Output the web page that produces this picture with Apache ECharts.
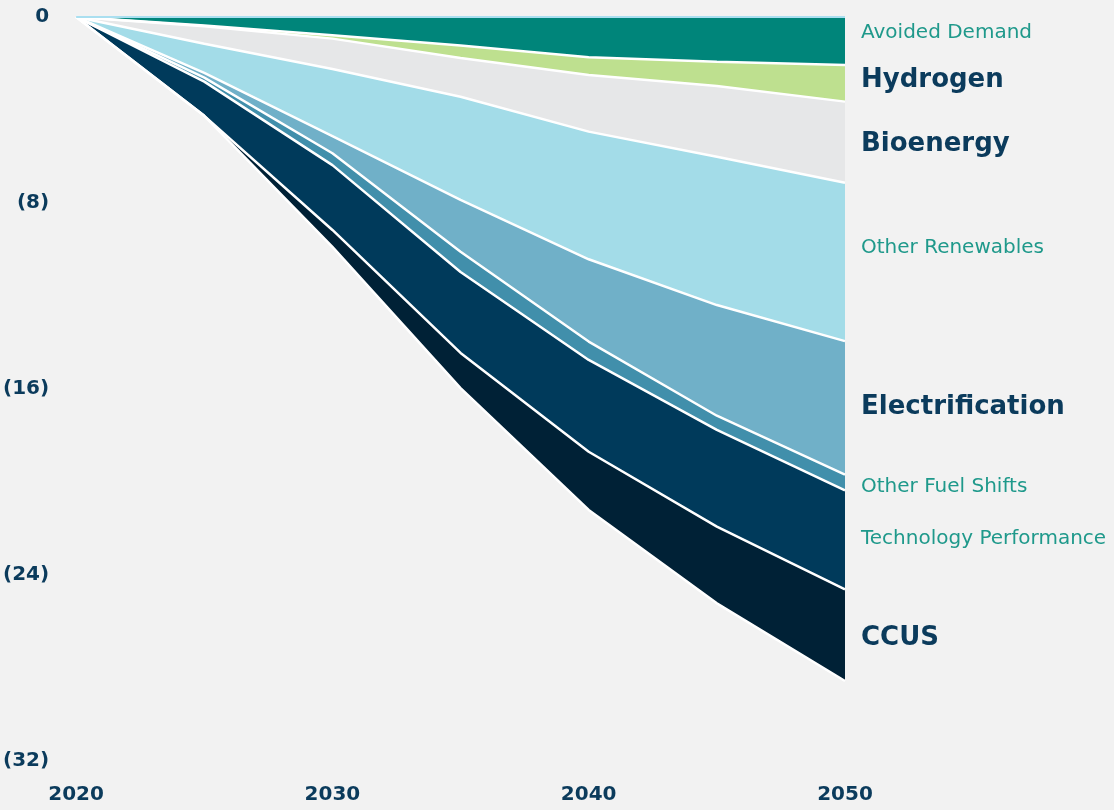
<!DOCTYPE html>
<html>
<head>
<meta charset="utf-8">
<style>
  html, body { margin: 0; padding: 0; background: #f2f2f2; }
  #main { width: 1114px; height: 810px; }
</style>
<script src="https://cdn.jsdelivr.net/npm/echarts@6/dist/echarts.min.js"></script>
</head>
<body>
<div id="main"></div>
<script>
// years on the x axis
const years = ['2020', '2025', '2030', '2035', '2040', '2045', '2050']
const yTicks = [0, -8, -16, -24, -32]

// reductions per lever (negative = below baseline)
const avoidedDemand = [0, -0.37, -0.79, -1.23, -1.73, -1.92, -2.06]
const hydrogen = [0, -0.03, -0.14, -0.53, -0.76, -1.05, -1.58]
const bioenergy = [0, -0.75, -1.31, -1.67, -2.44, -3.04, -3.49]
const otherRenewables = [0, -1.25, -2.88, -4.44, -5.49, -6.38, -6.81]
const electrification = [0, -0.21, -0.74, -2.23, -3.54, -4.76, -5.74]
const otherFuelShifts = [0, -0.17, -0.51, -0.87, -0.79, -0.61, -0.68]
const techPerformance = [0, -1.47, -2.79, -3.48, -3.95, -4.16, -4.26]
const ccus = [0, 0, -0.73, -1.51, -2.5, -3.3, -3.94]

const seriesNames = ['Avoided Demand', 'Hydrogen', 'Bioenergy', 'Other Renewables',
  'Electrification', 'Other Fuel Shifts', 'Technology Performance', 'CCUS']
const seriesData = [avoidedDemand, hydrogen, bioenergy, otherRenewables,
  electrification, otherFuelShifts, techPerformance, ccus]

// styling
const colors = ['#00857a', '#bee08f', '#e6e7e8', '#a3dce8', '#70b0c8', '#418fab', '#003a5b', '#002136']
const bigLabel = [false, true, true, false, true, false, false, true]
const labelShift = [-8, -3, 2, -14, -1, 4, -1, 3]
const navy = '#0b3b5c'
const teal = '#1f998b'

const chart = echarts.init(document.getElementById('main'))

const series = seriesNames.map(function (name, i) {
  const s = {
    name: name,
    type: 'line',
    stack: 'total',
    data: seriesData[i],
    symbol: 'none',
    silent: true,
    lineStyle: { color: '#ffffff', width: 2.5 },
    areaStyle: { color: colors[i], opacity: 1 },
    itemStyle: { color: colors[i] }
  }
  if (i === 0) {
    // light blue zero line across the top
    s.markLine = {
      silent: true,
      symbol: 'none',
      label: { show: false },
      lineStyle: { color: '#aadff0', width: 2, type: 'solid' },
      data: [{ yAxis: 0 }]
    }
  }
  return s
})

chart.setOption({
  backgroundColor: '#f2f2f2',
  animation: false,
  grid: { left: 75, right: 269, top: 17, bottom: 49 },
  xAxis: {
    type: 'category',
    data: years,
    boundaryGap: false,
    axisLine: { show: false },
    axisTick: { show: false },
    splitLine: { show: false },
    axisLabel: {
      interval: 1,
      margin: 24,
      color: navy,
      fontFamily: 'DejaVu Sans',
      fontWeight: 'bold',
      fontSize: 20
    }
  },
  yAxis: {
    type: 'value',
    min: yTicks[yTicks.length - 1],
    max: yTicks[0],
    interval: 8,
    axisLine: { show: false },
    axisTick: { show: false },
    splitLine: { show: false },
    axisLabel: {
      margin: 27,
      color: navy,
      fontFamily: 'DejaVu Sans',
      fontWeight: 'bold',
      fontSize: 20,
      formatter: function (v) {
        return v === 0 ? '0' : '(' + Math.abs(v) + ')'
      }
    }
  },
  series: series
})

// right-hand labels, placed beside the middle of each band at 2050
const last = years.length - 1
const xEnd = chart.convertToPixel({ xAxisIndex: 0 }, years[last])
let cum = 0
const texts = seriesNames.map(function (name, i) {
  const v = seriesData[i][last]
  const mid = cum + v / 2
  cum += v
  const y = chart.convertToPixel({ yAxisIndex: 0 }, mid) + labelShift[i]
  return {
    type: 'text',
    x: xEnd + 16,
    y: y,
    silent: true,
    style: {
      text: name,
      fill: bigLabel[i] ? navy : teal,
      font: bigLabel[i] ? 'bold 26px "DejaVu Sans"' : '20px "DejaVu Sans"',
      verticalAlign: 'middle',
      align: 'left'
    }
  }
})
chart.setOption({ graphic: texts })
</script>
</body>
</html>
